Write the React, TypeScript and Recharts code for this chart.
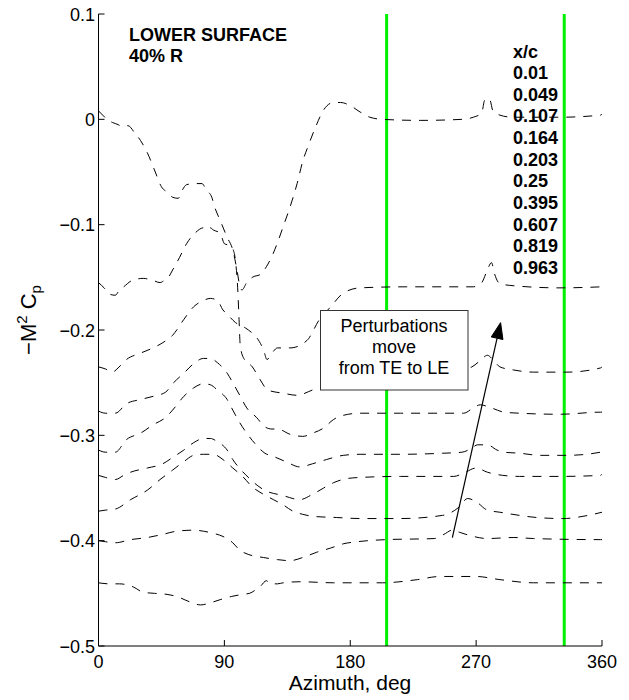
import React from 'react';
import { LineChart, Line, XAxis, YAxis, ReferenceLine } from 'recharts';

const AZ_TICKS = [0, 90, 180, 270, 360];
const CP_TICKS = [0.1, 0, -0.1, -0.2, -0.3, -0.4, -0.5];
const XC_LABELS = ['0.01', '0.049', '0.107', '0.164', '0.203', '0.25', '0.395', '0.607', '0.819', '0.963'];
const GREEN_AZ = [206, 333];
const ARROW_FROM = { az: 253, cp: -0.397 };
const ARROW_TO = { az: 287.5, cp: -0.193 };

type P = [number, number];

const curve1: P[] = [[0,0.008],[3,0.004],[7,-0.001],[10,-0.003],[14,-0.005],[17,-0.007],[21,-0.006],[26,-0.013],[30,-0.02],[35,-0.032],[40,-0.048],[45,-0.064],[50,-0.07],[53,-0.074],[57,-0.075],[60,-0.067],[63,-0.062],[69,-0.061],[74,-0.061],[77,-0.067],[81,-0.074],[83,-0.083],[87,-0.096],[92,-0.112],[96,-0.124],[99,-0.143],[101,-0.158],[102.5,-0.162],[106,-0.155],[110,-0.15],[116,-0.147],[120,-0.14],[124,-0.13],[128,-0.117],[132,-0.102],[137,-0.083],[142,-0.061],[146,-0.04],[150,-0.025],[155,-0.008],[161,0.009],[168,0.016],[173,0.016],[180,0.013],[187,0.007],[194,0.002],[203,0.0],[230,-0.001],[260,0.0],[268,0.002],[274,0.006],[276,0.018],[278,0.02],[280,0.018],[282,0.008],[287,0.004],[296,0.002],[330,0.002],[359,0.004],[360,0.005]];
const curve2: P[] = [[0,-0.155],[4,-0.16],[8,-0.166],[12,-0.167],[15,-0.162],[18,-0.159],[24,-0.153],[32,-0.151],[39,-0.153],[44,-0.155],[47,-0.153],[50,-0.15],[53,-0.143],[58,-0.131],[63,-0.118],[69,-0.108],[75,-0.103],[77,-0.105],[80,-0.103],[82,-0.105],[87,-0.108],[90,-0.118],[94,-0.12],[96,-0.123],[98,-0.135],[99.5,-0.16],[100.5,-0.19],[101.3,-0.214],[103.5,-0.226],[110,-0.235],[115.5,-0.247],[121,-0.257],[132,-0.26],[142,-0.262],[153,-0.257],[165,-0.252],[180,-0.246],[200,-0.242],[230,-0.24],[255,-0.239],[263,-0.237],[267,-0.235],[273,-0.229],[278,-0.224],[282,-0.228],[287,-0.235],[297,-0.238],[311,-0.24],[335,-0.24],[359,-0.236],[360,-0.235]];
const curve3: P[] = [[0,-0.235],[5,-0.237],[10,-0.24],[14,-0.236],[20,-0.228],[30,-0.222],[39,-0.217],[46,-0.212],[53,-0.205],[61,-0.19],[68,-0.178],[75,-0.172],[80,-0.17],[85,-0.172],[89,-0.181],[92,-0.185],[98,-0.193],[105,-0.198],[110,-0.203],[113,-0.207],[118,-0.219],[120.5,-0.228],[124,-0.222],[128,-0.217],[137,-0.217],[149,-0.21],[158,-0.19],[166,-0.178],[175,-0.165],[187,-0.16],[220,-0.159],[268,-0.159],[274,-0.155],[278,-0.143],[281,-0.136],[283,-0.146],[287,-0.156],[297,-0.158],[330,-0.16],[360,-0.159]];
const curve4: P[] = [[0,-0.277],[5,-0.279],[12,-0.279],[20,-0.27],[30,-0.266],[39,-0.263],[48,-0.259],[53,-0.251],[61,-0.241],[68,-0.232],[75,-0.227],[80,-0.227],[85,-0.231],[92,-0.241],[96,-0.25],[101,-0.262],[106,-0.274],[113,-0.283],[119,-0.292],[124,-0.294],[128,-0.294],[137,-0.299],[146,-0.301],[153,-0.298],[161,-0.293],[168,-0.285],[175,-0.281],[187,-0.279],[216,-0.279],[261,-0.279],[268,-0.274],[273,-0.271],[279,-0.273],[290,-0.278],[301,-0.279],[330,-0.28],[359,-0.278],[360,-0.278]];
const curve5: P[] = [[0,-0.314],[5,-0.316],[12,-0.316],[20,-0.304],[30,-0.298],[39,-0.29],[48,-0.283],[53,-0.276],[61,-0.263],[68,-0.255],[75,-0.251],[80,-0.252],[85,-0.257],[92,-0.266],[96,-0.276],[101,-0.288],[106,-0.298],[112,-0.308],[119,-0.317],[125,-0.32],[134,-0.325],[144,-0.33],[153,-0.327],[163,-0.323],[175,-0.319],[187,-0.318],[216,-0.318],[246,-0.317],[260,-0.316],[267,-0.312],[271,-0.309],[278,-0.309],[285,-0.314],[290,-0.316],[301,-0.317],[316,-0.319],[335,-0.319],[359,-0.316],[360,-0.315]];
const curve6: P[] = [[0,-0.338],[5,-0.34],[12,-0.342],[18,-0.338],[23,-0.335],[35,-0.331],[46,-0.327],[53,-0.321],[61,-0.314],[68,-0.307],[75,-0.303],[80,-0.303],[85,-0.306],[92,-0.314],[96,-0.323],[102,-0.333],[108,-0.341],[114,-0.348],[120,-0.353],[128,-0.356],[134,-0.358],[139,-0.36],[144,-0.361],[153,-0.356],[161,-0.35],[168,-0.345],[178,-0.341],[187,-0.34],[216,-0.339],[254,-0.339],[261,-0.336],[270,-0.331],[278,-0.335],[289,-0.338],[301,-0.339],[330,-0.339],[359,-0.338],[360,-0.337]];
const curve7: P[] = [[0,-0.372],[5,-0.371],[12,-0.37],[23,-0.361],[35,-0.352],[44,-0.342],[53,-0.333],[61,-0.325],[68,-0.319],[75,-0.318],[82,-0.318],[89,-0.323],[96,-0.331],[103,-0.339],[110,-0.349],[118,-0.356],[125,-0.361],[132,-0.366],[139,-0.372],[146,-0.375],[154,-0.377],[170,-0.378],[187,-0.379],[216,-0.379],[246,-0.376],[257,-0.369],[264,-0.36],[270,-0.363],[278,-0.371],[287,-0.373],[301,-0.376],[313,-0.378],[332,-0.379],[350,-0.376],[360,-0.373]];
const curve8: P[] = [[0,-0.4],[5,-0.401],[12,-0.402],[23,-0.399],[35,-0.397],[46,-0.394],[56,-0.391],[68,-0.39],[75,-0.391],[82,-0.393],[89,-0.396],[96,-0.402],[101,-0.409],[107,-0.413],[118,-0.416],[128,-0.418],[137,-0.419],[146,-0.416],[156,-0.411],[166,-0.407],[175,-0.403],[185,-0.401],[206,-0.399],[240,-0.398],[247,-0.394],[253,-0.39],[258,-0.392],[268,-0.396],[278,-0.398],[297,-0.397],[311,-0.398],[359,-0.399],[360,-0.399]];
const curve9: P[] = [[0,-0.44],[8,-0.441],[15,-0.441],[25,-0.444],[32,-0.449],[40,-0.45],[49,-0.451],[56,-0.453],[65,-0.458],[73,-0.461],[80,-0.459],[87,-0.456],[95,-0.453],[103,-0.451],[108,-0.45],[112,-0.447],[116,-0.443],[120,-0.438],[123,-0.441],[128,-0.441],[132,-0.44],[144,-0.439],[168,-0.44],[203,-0.44],[228,-0.437],[244,-0.434],[258,-0.434],[270,-0.434],[287,-0.437],[311,-0.44],[360,-0.44]];

const CURVES: P[][] = [curve1, curve2, curve3, curve4, curve5, curve6, curve7, curve8, curve9];

const toRows = (pts: P[]) => pts.map(([az, cp]) => ({ az, cp }));

const FONT = '"Liberation Sans", Arial, Helvetica, sans-serif';

const fmt = (v: number) => (v === 0 ? '0' : v.toFixed(1).replace('-', '\u2212'));

const YTick = (props: any) => {
  const { x, y, payload } = props;
  return (
    <g>
      <line x1={x} y1={y} x2={x + 6} y2={y} stroke="#000" strokeWidth={1} />
      <text x={x - 3.5} y={y + 6.5} textAnchor="end" fontSize={18} fontFamily={FONT} fill="#000">
        {fmt(payload.value)}
      </text>
    </g>
  );
};

const XTick = (props: any) => {
  const { x, y, payload } = props;
  return (
    <g>
      <line x1={x} y1={y} x2={x} y2={y - 6} stroke="#000" strokeWidth={1} />
      <text x={x} y={y + 22} textAnchor="middle" fontSize={18} fontFamily={FONT} fill="#000">
        {String(payload.value)}
      </text>
    </g>
  );
};

const ArrowShape = (props: any) => {
  const { x1, y1, x2, y2 } = props;
  if (x1 == null) return <g />;
  const dx = x2 - x1;
  const dy = y2 - y1;
  const len = Math.sqrt(dx * dx + dy * dy);
  const ux = dx / len;
  const uy = dy / len;
  const headL = 16;
  const headW = 6;
  const bx = x2 - ux * headL;
  const by = y2 - uy * headL;
  const px = -uy;
  const py = ux;
  return (
    <g>
      <line x1={x1} y1={y1} x2={bx} y2={by} stroke="#000" strokeWidth={1.2} />
      <polygon
        points={`${x2},${y2} ${bx + px * headW},${by + py * headW} ${bx - px * headW},${by - py * headW}`}
        fill="#000"
        stroke="#000"
      />
    </g>
  );
};

export default function App() {
  return (
    <div style={{ position: 'absolute', left: 0, top: 0, width: 629, height: 700, background: '#fff' }}>
      <LineChart width={629} height={700} margin={{ top: 14, right: 27, bottom: 0, left: 0 }}>
        <XAxis
          type="number"
          dataKey="az"
          domain={[0, 360]}
          ticks={AZ_TICKS}
          allowDataOverflow
          height={54}
          tickSize={0}
          tickMargin={0}
          tickLine={false}
          tick={<XTick />}
          axisLine={{ stroke: '#000', strokeWidth: 1 }}
          interval={0}
        />
        <YAxis
          type="number"
          dataKey="cp"
          domain={[-0.5, 0.1]}
          ticks={CP_TICKS}
          allowDataOverflow
          width={98.5}
          tickSize={0}
          tickMargin={0}
          tickLine={false}
          tick={<YTick />}
          axisLine={{ stroke: '#000', strokeWidth: 1 }}
          interval={0}
        />
        {GREEN_AZ.map((g) => (
          <ReferenceLine key={g} x={g} stroke="#00f000" strokeWidth={3} />
        ))}
        {CURVES.map((c, i) => (
          <Line
            key={i}
            data={toRows(c)}
            dataKey="cp"
            type="monotone"
            stroke="#000"
            strokeWidth={1}
            strokeDasharray="9 8"
            dot={false}
            activeDot={false}
            isAnimationActive={false}
          />
        ))}
        <ReferenceLine
          segment={[
            { x: ARROW_FROM.az, y: ARROW_FROM.cp },
            { x: ARROW_TO.az, y: ARROW_TO.cp },
          ]}
          stroke="#000"
          shape={(p: any) => <ArrowShape {...p} />}
        />
      </LineChart>
      <svg
        width={629}
        height={700}
        style={{ position: 'absolute', left: 0, top: 0, pointerEvents: 'none' }}
        fontFamily={FONT}
      >
        <text x={129} y={41} fontSize={18} fontWeight="bold" fill="#000">LOWER SURFACE</text>
        <text x={129} y={62} fontSize={18} fontWeight="bold" fill="#000">40% R</text>
        <text x={513} y={57.5} fontSize={18} fontWeight="bold" fill="#000">x/c</text>
        {XC_LABELS.map((l, i) => (
          <text key={l} x={513} y={79 + 21.65 * i} fontSize={18} fontWeight="bold" fill="#000">
            {l}
          </text>
        ))}
        <rect x={320.5} y={310.5} width={147.5} height={79.5} fill="#fff" stroke="#333" strokeWidth={1} />
        <text x={394} y={332} fontSize={18} textAnchor="middle" fill="#000">Perturbations</text>
        <text x={394} y={352.5} fontSize={18} textAnchor="middle" fill="#000">move</text>
        <text x={394} y={373.5} fontSize={18} textAnchor="middle" fill="#000">from TE to LE</text>
        <text x={350} y={690} fontSize={21} textAnchor="middle" fill="#000">Azimuth, deg</text>
        <text transform="translate(36,320) rotate(-90)" fontSize={22} textAnchor="middle" fill="#000">
          {'\u2212M'}
          <tspan dy={-9} fontSize={15}>2</tspan>
          <tspan dy={9}>{' C'}</tspan>
          <tspan dy={5} fontSize={15}>p</tspan>
        </text>
      </svg>
    </div>
  );
}
